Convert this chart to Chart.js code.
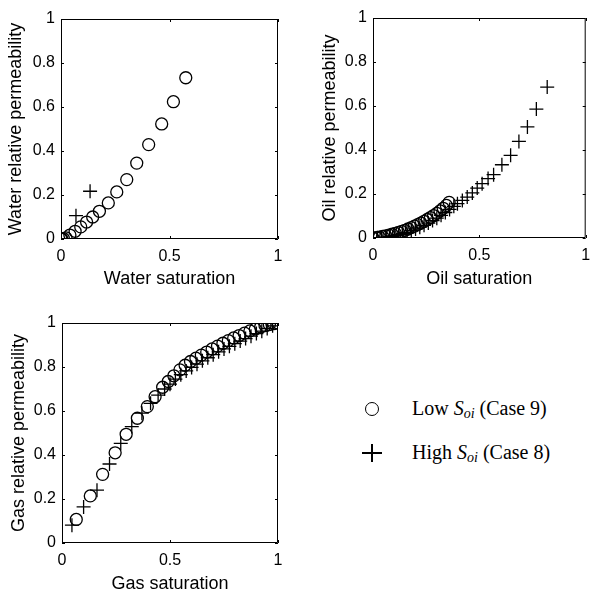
<!DOCTYPE html>
<html lang="en">
<head>
  <meta charset="UTF-8" />
  <title>Relative permeability</title>
  <script src="https://cdn.jsdelivr.net/npm/chart.js"></script>
  <style>
    html, body {
      margin: 0;
      padding: 0;
      background: #fff;
      overflow: hidden;
      width: 594px;
      height: 589px;
    }
    .plot {
      position: absolute;
    }
    .legend {
      position: absolute;
      left: 0;
      top: 0;
      font-family: "Liberation Serif", "Times New Roman", serif;
      font-size: 20px;
      color: #000;
    }
    .legend .row {
      position: absolute;
      left: 412px;
      white-space: nowrap;
      line-height: 24px;
    }
    .legend sub {
      font-size: 14px;
      vertical-align: -3px;
    }
    .mark-circle {
      position: absolute;
      width: 12px;
      height: 12px;
      border: 1.4px solid #000;
      border-radius: 50%;
    }
    .mark-plus {
      position: absolute;
      width: 20px;
      height: 18px;
    }
    .mark-plus::before, .mark-plus::after {
      content: "";
      position: absolute;
      background: #000;
    }
    .mark-plus::before { left: 0; top: 8px; width: 20px; height: 1.5px; }
    .mark-plus::after { left: 9.3px; top: 0; width: 1.5px; height: 18px; }
  </style>
</head>
<body>
  <canvas id="water" class="plot" style="left:0;top:0" width="290" height="290"></canvas>
  <canvas id="oil" class="plot" style="left:300px;top:0" width="294" height="290"></canvas>
  <canvas id="gas" class="plot" style="left:0;top:300px" width="290" height="300"></canvas>

  <div class="legend">
    <div class="mark-circle" style="left:365px;top:402px"></div>
    <div class="row" style="top:396px">Low <i>S<sub>oi</sub></i> (Case 9)</div>
    <div class="mark-plus" style="left:362px;top:444px"></div>
    <div class="row" style="top:440px">High <i>S<sub>oi</sub></i> (Case 8)</div>
  </div>

  <script>
    // water phase
    const waterLowSw = [0, 0.004, 0.011, 0.023, 0.041, 0.065, 0.091, 0.118, 0.146, 0.177, 0.218, 0.257, 0.303, 0.349, 0.404, 0.464, 0.518, 0.575];
    const waterLowKr = [0, 0, 0.002, 0.005, 0.018, 0.035, 0.055, 0.077, 0.100, 0.126, 0.164, 0.214, 0.270, 0.345, 0.429, 0.523, 0.624, 0.733];
    const waterHighSw = [0, 0.069, 0.134];
    const waterHighKr = [0, 0.106, 0.217];

    // oil phase
    const oilLowSo = [0, 0.015, 0.03, 0.045, 0.06, 0.075, 0.09, 0.105, 0.12, 0.135, 0.15, 0.165, 0.18, 0.195, 0.21, 0.225, 0.24, 0.255, 0.27, 0.285, 0.30, 0.315, 0.33, 0.345, 0.358];
    const oilLowKr = [0, 0.002, 0.004, 0.007, 0.010, 0.013, 0.017, 0.021, 0.025, 0.030, 0.035, 0.041, 0.047, 0.054, 0.061, 0.068, 0.076, 0.084, 0.093, 0.102, 0.112, 0.123, 0.135, 0.148, 0.162];
    const oilHighSo = [0, 0.02, 0.04, 0.06, 0.08, 0.10, 0.12, 0.14, 0.16, 0.18, 0.20, 0.22, 0.24, 0.26, 0.28, 0.30, 0.32, 0.34, 0.36, 0.38, 0.397, 0.42, 0.443, 0.467, 0.49, 0.513, 0.541, 0.567, 0.606, 0.647, 0.686, 0.726, 0.768, 0.819];
    const oilHighKr = [0, 0.001, 0.002, 0.004, 0.007, 0.011, 0.015, 0.020, 0.026, 0.033, 0.041, 0.049, 0.058, 0.068, 0.079, 0.090, 0.103, 0.116, 0.130, 0.144, 0.156, 0.171, 0.186, 0.205, 0.227, 0.247, 0.270, 0.288, 0.333, 0.376, 0.439, 0.505, 0.586, 0.686];

    // gas phase
    const gasLowSg = [0.066, 0.131, 0.188, 0.246, 0.297, 0.349, 0.395, 0.431, 0.466, 0.492, 0.518, 0.546, 0.57, 0.595, 0.62, 0.645, 0.67, 0.695, 0.72, 0.745, 0.77, 0.795, 0.82, 0.845, 0.87, 0.895, 0.92, 0.94, 0.96, 0.98, 1.0];
    const gasLowKr = [0.107, 0.214, 0.312, 0.410, 0.494, 0.567, 0.620, 0.665, 0.708, 0.734, 0.760, 0.787, 0.808, 0.825, 0.840, 0.854, 0.868, 0.882, 0.895, 0.908, 0.920, 0.932, 0.943, 0.954, 0.964, 0.973, 0.982, 0.988, 0.993, 0.997, 1.0];
    const gasHighSg = [0.046, 0.100, 0.162, 0.220, 0.272, 0.323, 0.37, 0.41, 0.445, 0.475, 0.50, 0.525, 0.55, 0.575, 0.60, 0.625, 0.65, 0.675, 0.70, 0.725, 0.75, 0.775, 0.80, 0.825, 0.85, 0.875, 0.90, 0.925, 0.95, 0.975, 1.0];
    const gasHighKr = [0.081, 0.164, 0.240, 0.359, 0.453, 0.529, 0.590, 0.635, 0.672, 0.700, 0.722, 0.745, 0.765, 0.782, 0.798, 0.813, 0.828, 0.842, 0.856, 0.869, 0.882, 0.894, 0.906, 0.918, 0.929, 0.940, 0.952, 0.963, 0.975, 0.987, 1.0];

    const xTicks = [0, 0.5, 1];
    const yTicks = [0, 0.2, 0.4, 0.6, 0.8, 1];

    const toPoints = (xs, ys) => xs.map((v, i) => ({ x: v, y: ys[i] }));
    const tickText = v => String(Math.round(v * 10) / 10);

    // frame round the plot area with short inward ticks on all four sides
    const boxPlugin = {
      id: "box",
      afterDraw(chart) {
        const { ctx, chartArea: a, scales: { x, y } } = chart;
        const tl = 3;
        ctx.save();
        ctx.strokeStyle = "#000";
        ctx.lineWidth = 1;
        ctx.beginPath();
        ctx.rect(a.left + 0.5, a.top + 0.5, a.right - a.left - 1, a.bottom - a.top - 1);
        for (const v of xTicks) {
          const px = Math.round(x.getPixelForValue(v)) + 0.5;
          ctx.moveTo(px, a.bottom); ctx.lineTo(px, a.bottom - tl);
          ctx.moveTo(px, a.top); ctx.lineTo(px, a.top + tl);
        }
        for (const v of yTicks) {
          const py = Math.round(y.getPixelForValue(v)) + 0.5;
          ctx.moveTo(a.left, py); ctx.lineTo(a.left + tl, py);
          ctx.moveTo(a.right, py); ctx.lineTo(a.right - tl, py);
        }
        ctx.stroke();
        ctx.restore();
      }
    };

    function makePlot(id, xTitle, yTitle, low, high, g) {
      return new Chart(document.getElementById(id), {
        type: "scatter",
        data: {
          datasets: [
            {
              label: "Low Soi (Case 9)",
              data: low,
              pointStyle: "circle",
              pointRadius: 6,
              borderWidth: 1.3,
              borderColor: "#000",
              backgroundColor: "rgba(0,0,0,0)"
            },
            {
              label: "High Soi (Case 8)",
              data: high,
              pointStyle: "cross",
              pointRadius: 7,
              borderWidth: 1.3,
              borderColor: "#000",
              backgroundColor: "rgba(0,0,0,0)"
            }
          ]
        },
        options: {
          responsive: false,
          animation: false,
          layout: { padding: { top: g.top, right: g.right, left: 0, bottom: 0 } },
          plugins: {
            legend: { display: false },
            tooltip: { enabled: false }
          },
          scales: {
            x: {
              type: "linear",
              min: 0,
              max: 1,
              afterBuildTicks: s => { s.ticks = xTicks.map(v => ({ value: v })); },
              afterFit: s => { s.height = g.xh; s.paddingLeft = 0; s.paddingRight = 0; },
              grid: { display: false, drawTicks: false },
              border: { display: false },
              ticks: {
                color: "#000",
                padding: 8,
                maxRotation: 0,
                callback: tickText,
                font: { family: "Liberation Sans, Arial", size: 16 }
              },
              title: {
                display: true,
                text: xTitle,
                color: "#000",
                padding: { top: 0, bottom: g.xpb },
                font: { family: "Liberation Sans, Arial", size: 18 }
              }
            },
            y: {
              type: "linear",
              min: 0,
              max: 1,
              afterBuildTicks: s => { s.ticks = yTicks.map(v => ({ value: v })); },
              afterFit: s => { s.width = g.yw; s.paddingTop = 0; s.paddingBottom = 0; },
              grid: { display: false, drawTicks: false },
              border: { display: false },
              ticks: {
                color: "#000",
                padding: 6,
                callback: tickText,
                font: { family: "Liberation Sans, Arial", size: 16 }
              },
              title: {
                display: true,
                text: yTitle,
                color: "#000",
                padding: { top: g.ypt, bottom: 0 },
                font: { family: "Liberation Sans, Arial", size: 18 }
              }
            }
          }
        },
        plugins: [boxPlugin]
      });
    }

    makePlot("water", "Water saturation", "Water relative permeability",
      toPoints(waterLowSw, waterLowKr), toPoints(waterHighSw, waterHighKr),
      { top: 19, right: 12, xh: 51, yw: 61, xpb: 0, ypt: 5 });

    makePlot("oil", "Oil saturation", "Oil relative permeability",
      toPoints(oilLowSo, oilLowKr), toPoints(oilHighSo, oilHighKr),
      { top: 18, right: 6, xh: 52, yw: 73, xpb: 0, ypt: 19 });

    makePlot("gas", "Gas saturation", "Gas relative permeability",
      toPoints(gasLowSg, gasLowKr), toPoints(gasHighSg, gasHighKr),
      { top: 23, right: 12, xh: 57, yw: 62, xpb: 5, ypt: 8 });
  </script>
</body>
</html>
